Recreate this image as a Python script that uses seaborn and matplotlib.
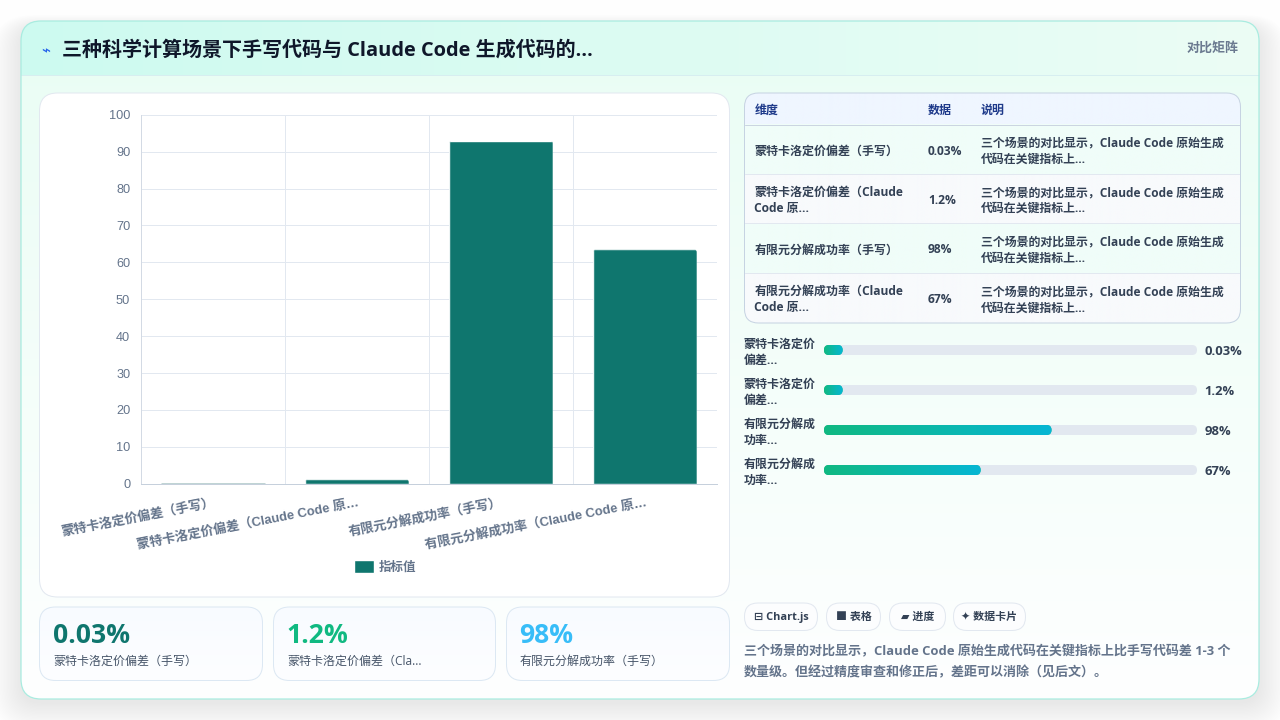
import numpy as np
import pandas as pd
import matplotlib
matplotlib.use('Agg')
import matplotlib.pyplot as plt
import seaborn as sns
from matplotlib.colors import to_rgb
from matplotlib.patches import FancyBboxPatch
from matplotlib.transforms import IdentityTransform

# chart data
chart_labels = ['蒙特卡洛定价偏差（手写）', '蒙特卡洛定价偏差（Claude Code 原…',
                '有限元分解成功率（手写）', '有限元分解成功率（Claude Code 原…']
chart_values = [0.03, 1.2, 93, 63.5]
series_name = '指标值'
y_ticks = list(range(0, 101, 10))

# table
table_head = ['维度', '数据', '说明']
table_dims = [['蒙特卡洛定价偏差（手写）'], ['蒙特卡洛定价偏差（Claude', 'Code 原…'],
              ['有限元分解成功率（手写）'], ['有限元分解成功率（Claude', 'Code 原…']]
table_data = ['0.03%', '1.2%', '98%', '67%']
table_note = ['三个场景的对比显示，Claude Code 原始生成', '代码在关键指标上…']

# progress bars
progress_labels = [['蒙特卡洛定价', '偏差…'], ['蒙特卡洛定价', '偏差…'],
                   ['有限元分解成', '功率…'], ['有限元分解成', '功率…']]
progress_text = ['0.03%', '1.2%', '98%', '67%']
progress_fill = [5, 5, 61, 42]

# cards
card_values = ['0.03%', '1.2%', '98%']
card_labels = ['蒙特卡洛定价偏差（手写）', '蒙特卡洛定价偏差（Cla…', '有限元分解成功率（手写）']
card_colors = ['#0f766e', '#10b981', '#38bdf8']

chips = ['⊟ Chart.js', '■ 表格', '▰ 进度', '✦ 数据卡片']
title = '三种科学计算场景下手写代码与 Claude Code 生成代码的…'
note_lines = ['三个场景的对比显示，Claude Code 原始生成代码在关键指标上比手写代码差 1-3 个',
              '数量级。但经过精度审查和修正后，差距可以消除（见后文）。']

UI = ['Open Sans', 'Noto Sans CJK SC', 'DejaVu Sans']
AXF = ['Liberation Sans', 'Noto Sans CJK SC']
PX = 0.72

sns.set_theme(style='white')
plt.rcParams['font.family'] = UI

fig = plt.figure(figsize=(12.8, 7.2), dpi=100)
fig.patch.set_facecolor('#fefefe')
bg = fig.add_axes([0, 0, 1, 1], zorder=0)
bg.set_xlim(0, 1280)
bg.set_ylim(720.5, 0.5)
bg.axis('off')


def box(x0, y0, x1, y1, r, fc='white', ec='none', lw=0.72, alpha=None, z=1):
    p = FancyBboxPatch((x0 + r, y0 + r), x1 - x0 - 2 * r, y1 - y0 - 2 * r,
                       boxstyle=f'round,pad={r}', fc=fc, ec=ec, lw=lw, alpha=alpha, zorder=z)
    bg.add_patch(p)
    return p


def grad(x0, y0, x1, y1, c0, c1, clip, vertical=False, z=1.5):
    t = np.linspace(0, 1, 256)
    c0, c1 = np.array(to_rgb(c0)), np.array(to_rgb(c1))
    img = c0[None, :] * (1 - t)[:, None] + c1[None, :] * t[:, None]
    img = img[:, None, :] if vertical else img[None, :, :]
    im = bg.imshow(img, extent=(x0, x1, y1, y0), aspect='auto', zorder=z, interpolation='bilinear')
    im.set_clip_path(clip)
    bg.set_xlim(0, 1280)
    bg.set_ylim(720.5, 0.5)


def txt(x, y, s, size, color, weight='bold', ha='left', z=5, family=None):
    bg.text(x, y + 1, s, fontsize=size * PX, color=color, fontweight=weight, ha=ha, va='center',
            zorder=z, family=family or UI)


# soft shadow of the page card
for i in range(22):
    box(21 - i * 1.4, 28 - i * 0.6, 1259 + i * 1.4, 704 + i * 1.3, 20 + i, fc='#0f172a', alpha=0.004, z=0.5)

# outer card with mint gradient body
outer = box(21, 21.5, 1259, 699.5, 20, fc='white', z=1)
grad(21, 21, 1259, 700, '#e9fdf4', '#feffff', outer, vertical=True)
grad(21, 21, 1259, 75.5, '#cdfaf0', '#ecfdf5', outer, z=1.6)
bg.plot([21, 1259], [75.5, 75.5], color='#d7eef0', lw=0.72, zorder=2)
box(21, 21.5, 1259, 699.5, 20, fc='none', ec='#a9ece0', lw=0.9, z=2)

txt(41, 50, '⌁', 15, '#2563eb', family=['DejaVu Sans'])
txt(62, 50, title, 20.05, '#0f172a')
txt(1239, 47.5, '对比矩阵', 13, '#6b7a90', ha='right')

# chart panel
box(39.5, 93.5, 729.5, 597.5, 18, fc='white', ec='#e2e8f0', z=2)

# bar chart
ax = fig.add_axes([141 / 1280, 1 - 483.7 / 720, 576 / 1280, 369 / 720], zorder=2)
ax.patch.set_alpha(0)
df = pd.DataFrame({'label': chart_labels, 'value': chart_values})
sns.barplot(data=df, x='label', y='value', color='#0f766e', saturation=1, width=0.72, ax=ax, label=series_name)
ax.set_xlim(-0.5, 3.5)
ax.set_ylim(0, 100)
ax.set_yticks(y_ticks)
ax.set_xticks([-0.5, 0.5, 1.5, 2.5, 3.5], minor=True)
ax.grid(True, axis='y', color='#e2e8f0', lw=0.72)
ax.grid(True, axis='x', which='minor', color='#e2e8f0', lw=0.72)
ax.grid(False, axis='x', which='major')
ax.set_axisbelow(True)
sns.despine(ax=ax, top=True, right=True, left=False, bottom=False)
for side in ['left', 'bottom']:
    ax.spines[side].set_linewidth(0.72)
ax.spines['left'].set_color('#d3dae4')
ax.spines['bottom'].set_color('#c6d0dc')
ax.set_xlabel('')
ax.set_ylabel('')
ax.tick_params(axis='y', length=5.8, width=0.72, color='#e2e8f0', labelcolor='#64748b', labelsize=9.2, pad=2)
ax.tick_params(axis='x', which='major', length=0, pad=9)
ax.tick_params(axis='x', which='minor', length=6.5, width=0.72, color='#e2e8f0')
for t in ax.get_yticklabels():
    t.set_family(AXF)
ax.set_xticks(range(4))
ax.set_xticklabels(chart_labels, rotation=11, ha='right', rotation_mode='anchor',
                   fontsize=9.4, color='#64748b', fontweight='bold', family=AXF)
ax.legend(loc='center', bbox_to_anchor=(0.4234, -0.2265), frameon=False, handlelength=1.6,
          handleheight=1.2, handletextpad=0.4, labelcolor='#64748b',
          prop={'family': AXF, 'size': 9, 'weight': 'bold'})

# small rounded tops on the bars, the first one is only a faint hairline
for i, b in enumerate(ax.patches):
    if i == 0:
        b.set_edgecolor('#b9cfcf')
        b.set_linewidth(2)
        b.set_zorder(3)
        continue
    (px0, py0), (px1, py1) = ax.transData.transform([(b.get_x(), 0), (b.get_x() + b.get_width(), b.get_height())])
    clip = FancyBboxPatch((px0 + 3, py0 - 3), px1 - px0 - 6, py1 - py0,
                          boxstyle='round,pad=3', transform=IdentityTransform())
    b.set_clip_path(clip.get_path(), IdentityTransform())

# table
tbl = box(744.5, 93.5, 1240.5, 323.5, 14, fc='white', z=2)
grad(744, 93, 1241, 125.5, '#eff6ff', '#eff6ff', tbl, z=2.1)
row_edges = [125.5, 175, 224, 274, 323.5]
row_fill = ['#f0fdf9', '#f8fafc', '#f0fdf9', '#f8fafc']
for i in range(4):
    grad(744, row_edges[i], 1241, row_edges[i + 1], row_fill[i], row_fill[i], tbl, z=2.1)
    if i:
        bg.plot([745, 1240], [row_edges[i]] * 2, color='#e2e8f0', lw=0.72, zorder=3)
bg.plot([745, 1240], [125.5, 125.5], color='#cbd5e1', lw=0.72, zorder=3)
box(744.5, 93.5, 1240.5, 323.5, 14, fc='none', ec='#c6d3e2', z=3)

col_x = [755, 928, 981]
for x, h in zip(col_x, table_head):
    txt(x, 110, h, 12, '#1e3a8a')
for i in range(4):
    cy = (row_edges[i] + row_edges[i + 1]) / 2 + 0.5
    lines = table_dims[i]
    for j, s in enumerate(lines):
        txt(col_x[0] - 0.5, cy + (j - (len(lines) - 1) / 2) * 16, s, 12, '#334155')
    txt(col_x[1], cy, table_data[i], 12, '#334155')
    for j, s in enumerate(table_note):
        txt(col_x[2], cy + (j - 0.5) * 16, s, 11.9, '#334155')

# progress rows
track_x0, track_x1 = 824, 1197
for i in range(4):
    cy = 350.5 + i * 40
    for j, s in enumerate(progress_labels[i]):
        txt(744, cy - 6.5 + j * 16, s, 12, '#334155')
    box(track_x0, cy - 5, track_x1, cy + 5, 5, fc='#e2e8f0', z=2)
    fill_x = track_x0 + (track_x1 - track_x0) * progress_fill[i] / 100
    fill = box(track_x0, cy - 5, fill_x, cy + 5, 5, fc='#10b981', z=2.2)
    grad(track_x0, cy - 5, fill_x, cy + 5, '#10b981', '#06b6d4', fill, z=2.3)
    txt(1204.5, cy + 1, progress_text[i], 13, '#334155')

# stat cards
card_x = [(39.5, 262.5), (273.5, 495.5), (506.5, 729.5)]
for (x0, x1), v, l, c in zip(card_x, card_values, card_labels, card_colors):
    card = box(x0, 607.5, x1, 681, 16, fc='white', z=2)
    grad(x0, 607, x1, 681, '#f8fbff', '#fdfeff', card, vertical=True, z=2.1)
    box(x0, 607.5, x1, 681, 16, fc='none', ec='#dce8f3', z=3)
    txt(x0 + 13, 636, v, 26.5, c)
    txt(x0 + 13.5, 661, l, 12, '#475569', weight='normal')

# chips
chip_x = [(744.5, 817.5), (826.5, 880.5), (889.5, 945.5), (953.5, 1025.5)]
for (x0, x1), s in zip(chip_x, chips):
    box(x0, 603.5, x1, 631, 13.5, fc='#fcfdfe', ec='#e2e8f0', z=2)
    txt((x0 + x1) / 2, 617, s, 11, '#334155', ha='center')

for i, s in enumerate(note_lines):
    txt(744, 651 + i * 21, s, 13, '#64748b')

fig.savefig('out.png', dpi=100, facecolor=fig.get_facecolor())
